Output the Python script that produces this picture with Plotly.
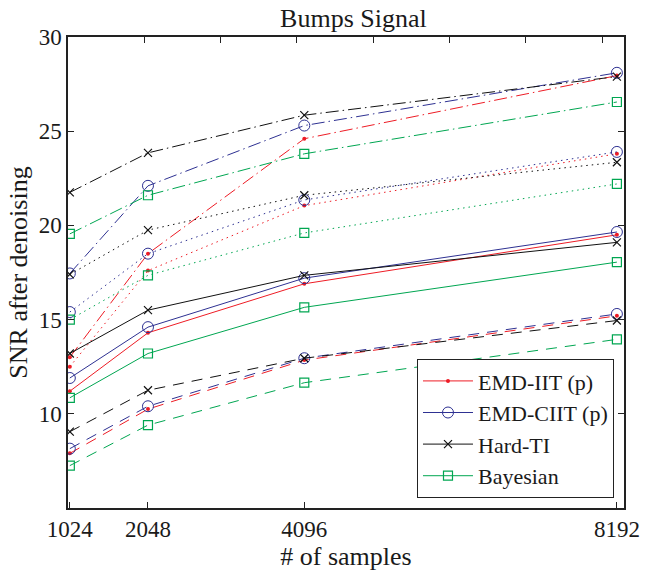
import plotly.graph_objects as go

samples = [1024, 2048, 4096, 8192]

# SNR values per method, per line style (noise level)
iit_solid = [11.2, 14.3, 16.9, 19.5]
iit_dash = [7.9, 10.25, 12.85, 15.2]
iit_dot = [12.5, 17.6, 21.05, 23.8]
iit_dashdot = [13.0, 18.5, 24.6, 27.95]

ciit_solid = [11.9, 14.6, 17.2, 19.65]
ciit_dash = [8.15, 10.4, 12.95, 15.3]
ciit_dot = [15.4, 18.5, 21.35, 23.9]
ciit_dashdot = [17.45, 22.1, 25.3, 28.1]

hti_solid = [13.2, 15.5, 17.35, 19.1]
hti_dash = [9.05, 11.25, 12.95, 14.95]
hti_dot = [17.4, 19.75, 21.6, 23.35]
hti_dashdot = [21.75, 23.85, 25.85, 27.9]

bay_solid = [10.85, 13.2, 15.65, 18.05]
bay_dash = [7.25, 9.4, 11.65, 13.95]
bay_dot = [15.0, 17.35, 19.6, 22.2]
bay_dashdot = [19.55, 21.6, 23.8, 26.55]

x_ticks = [1024, 2048, 4096, 8192]
y_ticks = [10, 15, 20, 25, 30]
top_ticks = [1000, 2000, 3000, 4000, 5000, 6000, 7000, 8000]

methods = [
    ("EMD-IIT (p)", "#ee1c25", dict(symbol="circle", size=4), [iit_solid, iit_dash, iit_dot, iit_dashdot]),
    ("EMD-CIIT (p)", "#2e3192", dict(symbol="circle-open", size=11, line=dict(width=1)), [ciit_solid, ciit_dash, ciit_dot, ciit_dashdot]),
    ("Hard-TI", "#111111", dict(symbol="x-thin-open", size=8, line=dict(width=1.2)), [hti_solid, hti_dash, hti_dot, hti_dashdot]),
    ("Bayesian", "#00a651", dict(symbol="square-open", size=9, line=dict(width=1.2)), [bay_solid, bay_dash, bay_dot, bay_dashdot]),
]
dashes = ["solid", "11px,8px", "1.5px,4px", "13px,4px,1.5px,4px"]

fig = go.Figure()
for name, color, mk, series in methods:
    for i, (vals, dsh) in enumerate(zip(series, dashes)):
        m = dict(mk)
        m["color"] = color
        if "line" in m:
            m["line"] = dict(m["line"], color=color)
        fig.add_trace(go.Scatter(
            x=samples, y=vals, mode="lines+markers", name=name,
            line=dict(color=color, width=1, dash=dsh),
            marker=m, showlegend=(i == 0), legendgroup=name,
        ))

# invisible trace to host top axis ticks
fig.add_trace(go.Scatter(x=[1000], y=[5], xaxis="x2", mode="markers",
                         marker=dict(opacity=0), showlegend=False, hoverinfo="skip"))

font = "Liberation Serif, Times New Roman, serif"
fig.update_layout(
    width=652, height=573,
    margin=dict(l=68, r=15, t=37, b=57),
    paper_bgcolor="white", plot_bgcolor="white",
    font=dict(family=font, size=23, color="#1a1a1a"),
    title=dict(text="Bumps Signal", x=0.542, xanchor="center", y=0.968, yanchor="middle",
               font=dict(family=font, size=26, color="#1a1a1a")),
    xaxis=dict(range=[1000, 8285], tickvals=x_ticks, ticktext=[str(v) for v in x_ticks],
               ticks="inside", ticklen=6, tickcolor="#222", showline=True, linecolor="#222",
               linewidth=1.5, mirror=True, showgrid=False, zeroline=False,
               ticklabeloverflow="allow",
               title=dict(text="# of samples", standoff=0, font=dict(size=26)),
               tickfont=dict(size=23)),
    xaxis2=dict(range=[1000, 8285], overlaying="x", side="top", tickvals=top_ticks,
                showticklabels=False, ticks="inside", ticklen=6, tickcolor="#222",
                showline=False, showgrid=False, zeroline=False),
    yaxis=dict(range=[5, 30], tickvals=y_ticks, ticks="inside", ticklen=6, tickcolor="#222",
               showline=True, linecolor="#222", linewidth=1.5, mirror="ticks",
               showgrid=False, zeroline=False,
               title=dict(text="SNR after denoising", standoff=4, font=dict(size=26)),
               tickfont=dict(size=23)),
    legend=dict(x=0.982, y=0.021, xanchor="right", yanchor="bottom",
                bgcolor="white", bordercolor="#222", borderwidth=1,
                font=dict(family=font, size=22, color="#1a1a1a"),
                tracegroupgap=0, itemwidth=50),
    showlegend=True,
)

fig.write_html("out.html")
